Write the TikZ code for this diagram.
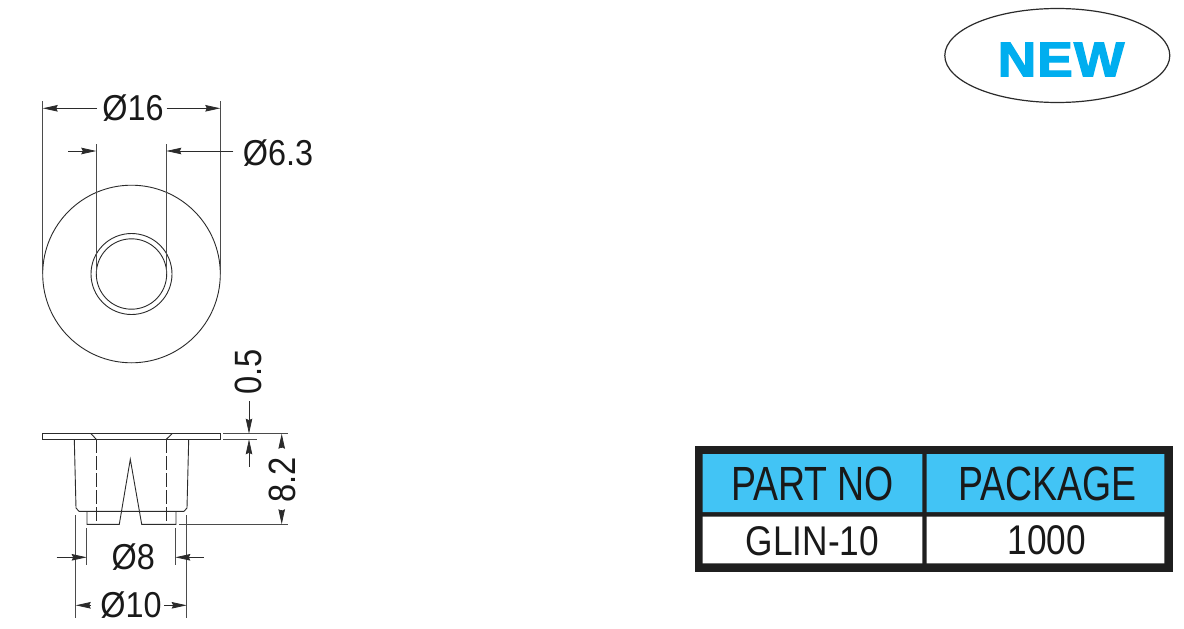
\documentclass[tikz,border=0pt]{standalone}
\usepackage{fontspec}
\setmainfont{Liberation Sans}
\newfontfamily\badgefont[FakeBold=2.5,LetterSpace=2]{Liberation Sans Bold}
\usetikzlibrary{arrows.meta}
\usetikzlibrary{shapes.geometric}
\definecolor{tablesky}{HTML}{42C4F5}
\definecolor{newblue}{HTML}{00AEEF}
\definecolor{inkline}{HTML}{2B2B2B}
\tikzset{
  outline/.style={draw=inkline,line width=0.9pt},
  hidden/.style={outline,dash pattern=on 14pt off 3pt on 14pt off 3pt},
  dimline/.style={color=inkline,line width=0.8pt,-{Stealth[length=15pt,width=6.5pt,inset=1.5pt]}},
  extline/.style={draw=inkline!85,line width=0.8pt},
  dimtext/.style={font=\fontsize{36}{36}\selectfont,xscale=0.9,inner sep=0pt,text=black!90},
  vdimtext/.style={font=\fontsize{38}{38}\selectfont,rotate=90,xscale=0.86,inner sep=0pt,text=black!90},
  headtext/.style={font=\fontsize{48}{48}\selectfont,xscale=0.78,inner sep=0pt,text=black!90},
  bodytext/.style={font=\fontsize{41.5}{41.5}\selectfont,xscale=0.85,inner sep=0pt,text=black!90}
}
\begin{document}
\begin{tikzpicture}[x=1pt,y=-1pt]
  \useasboundingbox[fill=white] (0,0) rectangle (1184,629);

  % new badge
  \node (badge) [draw=inkline,line width=1.2pt,ellipse,minimum width=225pt,minimum height=94pt,inner sep=0pt] at (1057.3,55.5) {};
  \node (newtext) [text=newblue,font=\fontsize{49}{49}\badgefont,xscale=1.09,inner sep=0pt] at (1061,59.5) {NEW};

  % table
  \fill[black!88] (695,445.7) rectangle (1172.7,571.7);
  \fill[tablesky] (702.7,454) rectangle (922.3,512) (926.7,454) rectangle (1164.3,512);
  \fill[white] (702.7,516.7) rectangle (922.3,563.3) (926.7,516.7) rectangle (1164.3,563.3);
  \node (partno) [headtext] at (812.5,483.5) {PART NO};
  \node (package) [headtext] at (1047.5,483.5) {PACKAGE};
  \node (partval) [bodytext] at (812.5,541) {GLIN-10};
  \node (packval) [bodytext] at (1047,540.5) {1000};

  % top view
  \coordinate (c) at (131.5,274);
  \draw[outline] (c) circle (88.8pt) (c) circle (40.5pt) (c) circle (35.2pt);
  \coordinate (a1) at (42.7,101.3);
  \coordinate (a2) at (220.3,101.3);
  \coordinate (a3) at (42.7,108.3);
  \coordinate (a4) at (220.3,108.3);
  \coordinate (a5) at (97,108.3);
  \coordinate (a6) at (166.7,108.3);
  \draw[extline] (a1) -- (42.7,274) (a2) -- (220.3,274);
  \path[dimline] (a5) edge (a3) (a6) edge (a4);
  \node (dia16) [dimtext] at (133,108.5) {Ø16};
  \coordinate (b1) at (96.3,144.3);
  \coordinate (b2) at (166.3,144.3);
  \coordinate (b3) at (96.3,151);
  \coordinate (b4) at (166.3,151);
  \coordinate (b5) at (68.3,151);
  \coordinate (b6) at (233.3,151);
  \draw[extline] (b1) -- (96.3,274) (b2) -- (166.3,274);
  \path[dimline] (b5) edge (b3) (b6) edge (b4);
  \node (dia63) [dimtext] at (278,153) {Ø6.3};

  % side view
  \draw[outline] (42.7,433.7) rectangle (220.3,439.3);
  \draw[outline] (74.3,439.3) -- (76,508) -- ++(3,3.3) -- (184,511.3) -- ++(3,-3.3) -- (188.7,439.3);
  \draw[outline] (87,511.3) -- (87,524.3) -- (119.3,524.3) -- (130.3,459.3) -- (141.7,524.3) -- (176,524.3) -- (176,511.3);
  \draw[outline] (91,433.7) -- (96.3,439.3) (172,433.7) -- (166.3,439.3);
  \draw[hidden] (96.3,439.3) -- (96.3,524.3);
  \draw[hidden] (166.3,439.3) -- (166.3,524.3);

  % side view dimensions
  \draw[extline] (75.7,515) -- (75.7,618) (186.7,515) -- (186.7,618);
  \draw[extline] (86.7,528.3) -- (86.7,565) (175.3,528.3) -- (175.3,565);
  \coordinate (d1) at (56.7,557.3);
  \coordinate (d2) at (86.7,557.3);
  \coordinate (d3) at (203.7,557.3);
  \coordinate (d4) at (175.3,557.3);
  \path[dimline] (d1) edge (d2) (d3) edge (d4);
  \node (dia8) [dimtext] at (133.3,557.5) {Ø8};
  \coordinate (e1) at (90.7,605.3);
  \coordinate (e2) at (75.7,605.3);
  \coordinate (e3) at (164.3,605.3);
  \coordinate (e4) at (186.7,605.3);
  \path[dimline] (e1) edge (e2) (e3) edge (e4);
  \node (dia10) [dimtext] at (131,605.5) {Ø10};
  \draw[extline] (223.3,433.7) -- (288,433.7) (223.3,439.3) -- (256.7,439.3) (179.3,524.3) -- (288,524.3);
  \coordinate (f1) at (249,401);
  \coordinate (f2) at (249,433.7);
  \coordinate (f3) at (249,466.7);
  \coordinate (f4) at (249,439.3);
  \path[dimline] (f1) edge (f2) (f3) edge (f4);
  \node (thick) [vdimtext] at (248,371.7) {0.5};
  \coordinate (g1) at (281.7,446.7);
  \coordinate (g2) at (281.7,433.7);
  \coordinate (g3) at (281.7,510);
  \coordinate (g4) at (281.7,524.3);
  \path[dimline] (g1) edge (g2) (g3) edge (g4);
  \node (height) [vdimtext] at (282.5,480) {8.2};
\end{tikzpicture}
\end{document}
